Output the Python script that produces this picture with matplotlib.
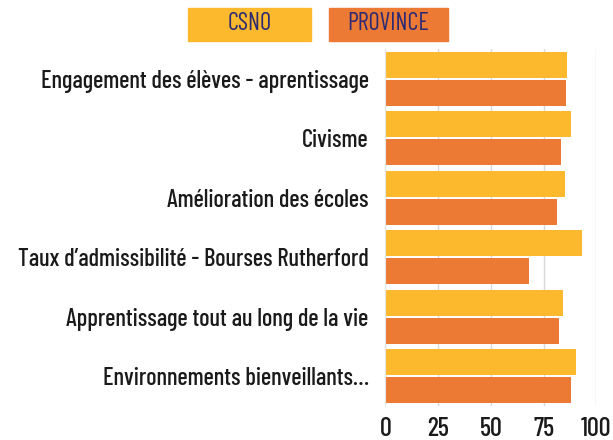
import matplotlib.pyplot as plt
import numpy as np
from matplotlib.patches import Rectangle

categories = [
    'Engagement des élèves - aprentissage',
    'Civisme',
    'Amélioration des écoles',
    'Taux d\u2019admissibilité - Bourses Rutherford',
    'Apprentissage tout au long de la vie',
    'Environnements bienveillants\u2026',
]
csno = [86.1, 88.2, 85.0, 93.4, 84.4, 90.5]
province = [85.6, 83.3, 81.5, 68.1, 82.2, 87.9]
xticks = [0, 25, 50, 75, 100]

YELLOW = '#FDB92E'
ORANGE = '#EC7A35'
NAVY = '#2B2A72'


def main():
    plt.rcParams['font.family'] = ['Barlow Condensed', 'DejaVu Sans']
    plt.rcParams['font.stretch'] = 'condensed'
    plt.rcParams['font.weight'] = 500

    fig = plt.figure(figsize=(6.13, 4.4), dpi=100)
    ax = fig.add_axes([0.6286, 0.0775, 0.9728 - 0.6286, 0.888 - 0.0775])

    # Paired horizontal bars, CSNO on top of each pair
    y = np.arange(len(categories))
    h = 0.438
    off = 0.236
    ax.barh(y - off, csno, height=h, color=YELLOW, zorder=2)
    ax.barh(y + off, province, height=h, color=ORANGE, zorder=2)

    ax.set_xlim(0, 100)
    ax.set_ylim(5.5, -0.5)
    ax.set_yticks(y)
    ax.set_yticklabels(categories, fontsize=17.6, color='#1a1a1a')
    ax.set_xticks(xticks)
    ax.set_xticklabels([str(t) for t in xticks], fontsize=19, color='#1a1a1a')
    ax.tick_params(length=0, axis='y', pad=12)
    ax.tick_params(length=0, axis='x', pad=8)

    ax.grid(axis='x', color='#d9d9d9', lw=1, zorder=0)
    for s in ['top', 'right', 'bottom']:
        ax.spines[s].set_visible(False)
    ax.spines['left'].set_color('#e6e6e6')

    # Legend boxes above the plot
    for x0, x1, label, col in [(188, 311, 'CSNO', YELLOW),
                               (329, 448, 'PROVINCE', ORANGE)]:
        fig.patches.append(Rectangle((x0 / 613, 1 - 41 / 440),
                                     (x1 - x0) / 613, 33 / 440,
                                     transform=fig.transFigure,
                                     color=col, zorder=1))
        fig.text((x0 + x1) / 2 / 613, 1 - 23 / 440, label, color=NAVY,
                 fontsize=17.5, fontweight=400, ha='center', va='center')

    fig.savefig('out.png', dpi=100)
    plt.close()


if __name__ == "__main__":
    main()
